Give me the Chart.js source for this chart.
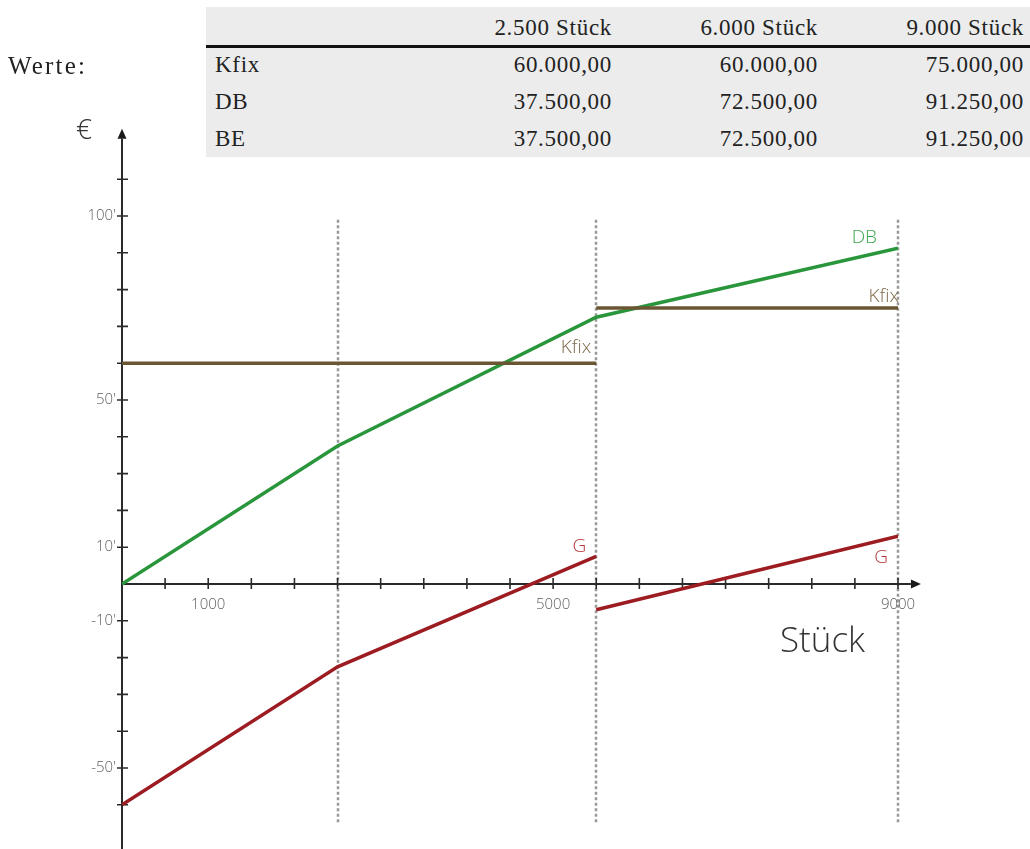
<!DOCTYPE html>
<html lang="de">

<head>
    <meta charset="UTF-8">
    <title>Kfix / DB / G</title>
    <style>
        * {
            margin: 0;
            padding: 0;
            box-sizing: border-box;
        }

        html,
        body {
            width: 1030px;
            height: 849px;
            background: #fff;
            overflow: hidden;
        }

        #chart {
            position: absolute;
            left: 0;
            top: 0;
            z-index: 0;
        }

        .werte {
            position: absolute;
            left: 8px;
            top: 52px;
            font-family: "Liberation Serif", serif;
            font-size: 25px;
            letter-spacing: 2.2px;
            color: #222;
            z-index: 1;
        }

        table {
            position: absolute;
            left: 206px;
            top: 7px;
            width: 824px;
            table-layout: fixed;
            border-collapse: collapse;
            background: #ececec;
            font-family: "Liberation Serif", serif;
            font-size: 23px;
            letter-spacing: 0.7px;
            color: #222;
            z-index: 1;
        }

        th,
        td {
            font-weight: normal;
            text-align: right;
            padding: 0 6px 0 0;
            line-height: 26px;
            white-space: nowrap;
        }

        th {
            height: 39px;
            vertical-align: bottom;
            padding-bottom: 4px;
            border-bottom: 3px solid #111;
        }

        td {
            height: 37px;
        }

        td:first-child {
            text-align: left;
            padding-left: 9px;
        }
    </style>
    <script src="https://cdn.jsdelivr.net/npm/chart.js"></script>
</head>

<body>
    <div class="werte">Werte:</div>
    <table id="werteTabelle">
        <colgroup>
            <col style="width:214px">
            <col style="width:198px">
            <col style="width:206px">
            <col style="width:206px">
        </colgroup>
        <tbody id="werteBody"></tbody>
    </table>
    <canvas id="chart" width="1030" height="849"></canvas>

    <script>
        // table
        const tabKopf = ['', '2.500 Stück', '6.000 Stück', '9.000 Stück'];
        const tabKfix = ['Kfix', '60.000,00', '60.000,00', '75.000,00'];
        const tabDB = ['DB', '37.500,00', '72.500,00', '91.250,00'];
        const tabBE = ['BE', '37.500,00', '72.500,00', '91.250,00'];

        // chart data (x = Stück, y = €)
        const dbStueck = [0, 2500, 5500, 9000];
        const dbWerte = [0, 37500, 72500, 91250];
        const kfixStueck1 = [0, 5500];
        const kfixWerte1 = [60000, 60000];
        const kfixStueck2 = [5500, 9000];
        const kfixWerte2 = [75000, 75000];
        const gStueck1 = [0, 2500, 5500];
        const gWerte1 = [-60000, -22500, 7500];
        const gStueck2 = [5500, 9000];
        const gWerte2 = [-7000, 13000];

        const markierungen = [2500, 5500, 9000];
        const xTicks = [500, 1000, 1500, 2000, 2500, 3000, 3500, 4000, 4500, 5000, 5500, 6000, 6500, 7000, 7500, 8000, 8500, 9000];
        const xLabelWerte = [1000, 5000, 9000];
        const xLabelTexte = ['1000', '5000', '9000'];
        const yTicks = [-60000, -50000, -40000, -30000, -20000, -10000, 10000, 20000, 30000, 40000, 50000, 60000, 70000, 80000, 90000, 100000, 110000];
        const yLabelWerte = [100000, 50000, 10000, -10000, -50000];
        const yLabelTexte = ["100'", "50'", "10'", "-10'", "-50'"];

        let html = '<tr>' + tabKopf.map(t => '<th>' + t + '</th>').join('') + '</tr>';
        [tabKfix, tabDB, tabBE].forEach(r => {
            html += '<tr>' + r.map(t => '<td>' + t + '</td>').join('') + '</tr>';
        });
        document.getElementById('werteBody').innerHTML = html;

        function pts(xs, ys) {
            return xs.map((x, i) => ({ x: x, y: ys[i] }));
        }

        const GREEN = '#2a963c';
        const BROWN = '#6b5634';
        const RED = '#9c1c22';
        const LIGHT = '300 15px "Open Sans", sans-serif';

        const achsenPlugin = {
            id: 'achsen',
            beforeDatasetsDraw(chart) {
                const c = chart.ctx;
                const xs = chart.scales.x, ys = chart.scales.y;
                const x0 = xs.getPixelForValue(0), y0 = ys.getPixelForValue(0);
                c.save();

                // dotted verticals
                c.strokeStyle = '#999';
                c.lineWidth = 2.5;
                c.setLineDash([3, 2.5]);
                markierungen.forEach(v => {
                    const px = Math.round(xs.getPixelForValue(v));
                    c.beginPath();
                    c.moveTo(px, ys.getPixelForValue(99000));
                    c.lineTo(px, ys.getPixelForValue(-65000));
                    c.stroke();
                });
                c.setLineDash([]);

                // axes
                c.strokeStyle = '#2a2a2a';
                c.fillStyle = '#1a1a1a';
                c.lineWidth = 2;
                const yTop = ys.getPixelForValue(121000);
                const xEnd = xs.getPixelForValue(9150);
                c.beginPath();
                c.moveTo(x0, chart.height);
                c.lineTo(x0, yTop);
                c.moveTo(x0, y0);
                c.lineTo(xEnd, y0);
                c.stroke();

                // arrows
                c.beginPath();
                c.moveTo(x0, yTop - 10);
                c.lineTo(x0 - 4.5, yTop);
                c.lineTo(x0 + 4.5, yTop);
                c.closePath();
                c.fill();
                c.beginPath();
                c.moveTo(xEnd + 10, y0);
                c.lineTo(xEnd, y0 - 4.5);
                c.lineTo(xEnd, y0 + 4.5);
                c.closePath();
                c.fill();

                // ticks
                c.lineWidth = 1.6;
                c.beginPath();
                xTicks.forEach(v => {
                    const px = xs.getPixelForValue(v);
                    c.moveTo(px, y0 - 6);
                    c.lineTo(px, y0 + 5);
                });
                yTicks.forEach(v => {
                    const py = ys.getPixelForValue(v);
                    c.moveTo(x0 - 5, py);
                    c.lineTo(x0 + 6, py);
                });
                c.stroke();

                // tick labels
                c.font = LIGHT;
                c.fillStyle = '#5e5e5e';
                c.textAlign = 'center';
                c.textBaseline = 'middle';
                xLabelWerte.forEach((v, i) => {
                    c.fillText(xLabelTexte[i], xs.getPixelForValue(v), y0 + 21);
                });
                c.textAlign = 'right';
                yLabelWerte.forEach((v, i) => {
                    c.fillText(yLabelTexte[i], x0 - 6, ys.getPixelForValue(v));
                });

                // axis titles
                c.fillStyle = '#333';
                c.textAlign = 'left';
                c.textBaseline = 'alphabetic';
                c.font = '300 35px "Open Sans", sans-serif';
                c.fillText('Stück', 780, 652);
                c.font = '300 28px "Open Sans", sans-serif';
                c.fillText('€', 76, 139);
                c.restore();
            },
            afterDatasetsDraw(chart) {
                const c = chart.ctx;
                const xs = chart.scales.x, ys = chart.scales.y;
                c.save();
                c.font = '300 19px "Open Sans", sans-serif';
                c.textAlign = 'right';
                c.textBaseline = 'middle';
                const lbl = (txt, col, xv, yv, dx, dy) => {
                    c.fillStyle = col;
                    c.fillText(txt, xs.getPixelForValue(xv) + dx, ys.getPixelForValue(yv) + dy);
                };
                lbl('DB', '#3aa64d', 9000, dbWerte[3], -21, -11);
                lbl('Kfix', '#7d6a4b', 9000, kfixWerte2[1], 1, -11);
                lbl('Kfix', '#7d6a4b', 5500, kfixWerte1[1], -5, -16);
                lbl('G', '#b3363c', 5500, gWerte1[2], -10, -10);
                lbl('G', '#b3363c', 9000, gWerte2[1], -10, 21);
                c.restore();
            }
        };

        const lineDs = (label, data, color) => ({
            label: label,
            data: data,
            borderColor: color,
            backgroundColor: color,
            borderWidth: 3.5,
            pointRadius: 0,
            fill: false,
            tension: 0
        });

        new Chart(document.getElementById('chart'), {
            type: 'line',
            data: {
                datasets: [
                    lineDs('Kfix', pts(kfixStueck1, kfixWerte1), BROWN),
                    lineDs('Kfix', pts(kfixStueck2, kfixWerte2), BROWN),
                    lineDs('DB', pts(dbStueck, dbWerte), GREEN),
                    lineDs('G', pts(gStueck1, gWerte1), RED),
                    lineDs('G', pts(gStueck2, gWerte2), RED)
                ]
            },
            options: {
                responsive: false,
                animation: false,
                events: [],
                layout: {
                    padding: { left: 122, right: 132, top: 142.4, bottom: 7.4 }
                },
                plugins: {
                    legend: { display: false },
                    tooltip: { enabled: false }
                },
                scales: {
                    x: { type: 'linear', min: 0, max: 9000, display: false },
                    y: { min: -70000, max: 120000, display: false }
                }
            },
            plugins: [achsenPlugin]
        });
    </script>
</body>

</html>
